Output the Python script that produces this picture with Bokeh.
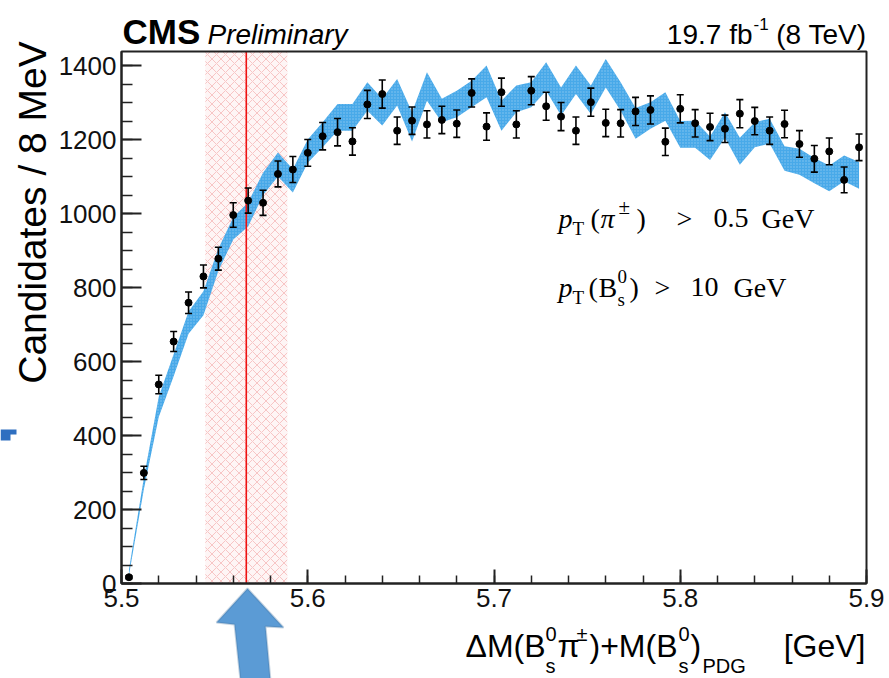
import math
from bokeh.plotting import figure
from bokeh.models import (ColumnDataSource, Whisker, TeeHead, BoxAnnotation, Label,
                          PolyAnnotation, SingleIntervalTicker, PrintfTickFormatter,
                          Range1d, LinearAxis)
from bokeh.embed import file_html
from bokeh.resources import INLINE

# ---------------- data ----------------
bin_centers = [5.504, 5.512, 5.520, 5.528, 5.536, 5.544, 5.552, 5.560, 5.568, 5.576,
               5.584, 5.592, 5.600, 5.608, 5.616, 5.624, 5.632, 5.640, 5.648, 5.656,
               5.664, 5.672, 5.680, 5.688, 5.696, 5.704, 5.712, 5.720, 5.728, 5.736,
               5.744, 5.752, 5.760, 5.768, 5.776, 5.784, 5.792, 5.800, 5.808, 5.816,
               5.824, 5.832, 5.840, 5.848, 5.856, 5.864, 5.872, 5.880, 5.888, 5.896]
counts = [17, 299, 538, 654, 759, 830, 878, 996, 1035, 1029,
          1107, 1119, 1164, 1209, 1220, 1195, 1295, 1323, 1224, 1251,
          1241, 1253, 1243, 1326, 1235, 1328, 1241, 1332, 1290, 1262,
          1224, 1301, 1245, 1244, 1276, 1280, 1194, 1283, 1244, 1234,
          1229, 1270, 1250, 1224, 1242, 1188, 1148, 1168, 1091, 1179]
errors = [4, 18, 25, 27, 29, 31, 31, 33, 34, 34,
          35, 35, 36, 37, 37, 37, 38, 38, 37, 37,
          37, 37, 37, 38, 37, 38, 37, 38, 38, 38,
          37, 38, 37, 37, 38, 38, 37, 38, 37, 37,
          37, 38, 37, 37, 37, 36, 36, 36, 35, 36]
band_low = [22, 255, 450, 560, 675, 725, 845, 930, 965, 1050,
            1100, 1057, 1137, 1179, 1224, 1224, 1278, 1238, 1292, 1195,
            1305, 1247, 1260, 1287, 1314, 1224, 1274, 1287, 1332, 1265,
            1323, 1269, 1341, 1278, 1202, 1229, 1251, 1178, 1178, 1145,
            1205, 1132, 1179, 1189, 1116, 1105, 1082, 1060, 1087, 1067]
band_high = [38, 285, 505, 620, 735, 790, 905, 990, 1030, 1110,
             1165, 1120, 1200, 1247, 1296, 1296, 1355, 1310, 1364, 1274,
             1382, 1310, 1332, 1359, 1400, 1305, 1346, 1355, 1409, 1341,
             1400, 1346, 1418, 1355, 1285, 1301, 1328, 1250, 1251, 1208,
             1274, 1205, 1247, 1256, 1182, 1175, 1150, 1130, 1157, 1139]
signal_window = [5.545, 5.589]
signal_mass = 5.567
x_lim = [5.5, 5.9]
y_lim = [0, 1438]

# ---------------- layout (page pixels) ----------------
W, H = 889, 678
FL, FR, FT, FB = 121, 866, 51, 583   # plot box left/right/top/bottom on the page
xpp = (x_lim[1] - x_lim[0]) / (FR - FL)
ypp = (y_lim[1] - y_lim[0]) / (FB - FT)
x_range = Range1d(x_lim[0] - FL * xpp, x_lim[1] + (W - FR) * xpp)
y_range = Range1d(y_lim[0] - (H - FB) * ypp, y_lim[1] + FT * ypp)

p = figure(width=W, height=H, output_backend="svg", toolbar_location=None,
           x_range=x_range, y_range=y_range, min_border=0,
           x_axis_location=None, y_axis_location=None, title=None)
p.background_fill_color = "white"
p.border_fill_color = "white"
p.outline_line_color = None
p.grid.visible = False

# axes (ROOT style: ticks inside), pinned to the plot box
xax = LinearAxis(fixed_location=y_lim[0], bounds=(x_lim[0] - 1e-4, x_lim[1] + 1e-4),
                 ticker=SingleIntervalTicker(interval=0.1, num_minor_ticks=5),
                 formatter=PrintfTickFormatter(format="%.1f"))
yax = LinearAxis(fixed_location=x_lim[0], bounds=(y_lim[0] - 0.01, y_lim[1]),
                 ticker=SingleIntervalTicker(interval=200, num_minor_ticks=4))
for ax in (xax, yax):
    ax.axis_line_width = 2
    ax.axis_line_color = "#222222"
    ax.major_tick_out = 0
    ax.minor_tick_out = 0
    ax.major_tick_line_width = 2
    ax.minor_tick_line_width = 1.5
    ax.major_tick_line_color = "#222222"
    ax.minor_tick_line_color = "#222222"
    ax.major_label_text_font = "Liberation Sans"
    ax.major_label_text_color = "#111111"
    ax.major_label_text_font_size = "26px"
    ax.major_label_standoff = 5
xax.major_tick_in = 14
xax.minor_tick_in = 8
yax.major_tick_in = 20
yax.minor_tick_in = 11

# signal window (hatched)
p.add_layout(BoxAnnotation(left=signal_window[0], right=signal_window[1],
                           bottom=y_lim[0], top=y_lim[1],
                           fill_color="#fdecec", fill_alpha=0.5,
                           hatch_pattern="diagonal_cross", hatch_color="#f08a8a",
                           hatch_alpha=0.45, hatch_scale=9, hatch_weight=1,
                           line_color=None, level="underlay"))

# fit band
band_src = ColumnDataSource(dict(x=bin_centers, lo=band_low, hi=band_high))
p.varea(x="x", y1="lo", y2="hi", source=band_src, fill_color="#3ea4e8", fill_alpha=0.95,
        hatch_pattern="dot", hatch_color="white", hatch_alpha=0.35, hatch_scale=3,
        hatch_weight=1)

# expected mass line
p.segment(x0=[signal_mass], y0=[y_lim[0]], x1=[signal_mass], y1=[y_lim[1]],
          line_color="#ee1111", line_width=1.6)

# data points with error bars
up = [c + e for c, e in zip(counts, errors)]
dn = [c - e for c, e in zip(counts, errors)]
pts = ColumnDataSource(dict(x=bin_centers, y=counts, up=up, dn=dn))
p.add_layout(Whisker(source=pts, base="x", upper="up", lower="dn",
                     line_color="black", line_width=1.6, level="annotation",
                     upper_head=TeeHead(size=7, line_color="black", line_width=1.6),
                     lower_head=TeeHead(size=7, line_color="black", line_width=1.6)))
p.scatter("x", "y", source=pts, size=7, color="black")

# plot box outline
p.quad(left=[x_lim[0]], right=[x_lim[1]], bottom=[y_lim[0]], top=[y_lim[1]],
       fill_color=None, line_color="#222222", line_width=2)

p.add_layout(xax, "below")
p.add_layout(yax, "left")

BASE_K = 0.33   # label box correction so that Y is the text baseline


def txt(text, X, Y, size, font="Liberation Sans", style="normal", align="left",
        baseline="alphabetic", angle=0.0, color="black"):
    yy = Y - BASE_K * size if baseline == "alphabetic" else Y
    p.add_layout(Label(x=X, y=H - yy, x_units="screen", y_units="screen",
                       text=text, text_font=font, text_font_size=f"{size}px",
                       text_font_style=style, text_align=align,
                       text_baseline=baseline, angle=angle, text_color=color,
                       level="overlay"))


# header
txt("CMS", 122, 43, 35, style="bold")
txt("Preliminary", 207, 43, 28, style="italic")
txt("19.7 fb", 752, 43, 28, align="right")
txt("-1", 753, 29, 17)
txt("(8 TeV)", 866, 43, 28, align="right")

# y axis title
txt("Candidates / 8 MeV", 32, 212, 39, align="center", baseline="middle",
    angle=math.pi / 2)

# x axis title
xs = 32
sub = 20
txt("\u0394M(B", 465, 656, xs)
txt("0", 545, 640, sub)
txt("s", 545, 672, sub)
txt("\u03c0", 557, 656, xs)
txt("\u00b1", 576, 640, sub)
txt(")+M(B", 589, 656, xs)
txt("0", 678, 640, sub)
txt("s", 678, 672, sub)
txt(")", 690, 656, xs)
txt("PDG", 702, 672, sub)
txt("[GeV]", 865, 656, xs, align="right")

# cut annotations (serif, TLatex-like)
SF = "Liberation Serif"
txt("p", 558, 227, 28, font=SF, style="italic")
txt("T", 572, 234, 19, font=SF)
txt("(", 590, 227, 28, font=SF)
txt("\u03c0", 600, 227, 28, font=SF, style="italic")
txt("\u00b1", 618, 213, 21, font=SF)
txt(")", 636, 227, 28, font=SF)
txt(">", 676, 227, 28, font=SF)
txt("0.5", 713, 227, 28, font=SF)
txt("GeV", 761, 227, 28, font=SF)

txt("p", 558, 296, 28, font=SF, style="italic")
txt("T", 572, 303, 19, font=SF)
txt("(", 588, 296, 28, font=SF)
txt("B", 598, 296, 28, font=SF)
txt("0", 617, 282, 19, font=SF)
txt("s", 617, 305, 19, font=SF)
txt(")", 629, 296, 28, font=SF)
txt(">", 654, 296, 28, font=SF)
txt("10", 690, 296, 28, font=SF)
txt("GeV", 733, 296, 28, font=SF)

# slide decorations: big blue arrow and a small blue mark
arrow_page = [(247, 588), (283, 627), (265, 626), (270, 680), (240, 680), (234, 624), (216, 622)]
p.add_layout(PolyAnnotation(xs=[x for x, _ in arrow_page],
                            ys=[H - y for _, y in arrow_page],
                            xs_units="screen", ys_units="screen",
                            fill_color="#5B9BD5", fill_alpha=1.0,
                            line_color="#41719C", line_width=2, level="overlay"))
mark_page = [(0, 429), (16, 429), (16, 434), (10, 434), (10, 440), (0, 440)]
p.add_layout(PolyAnnotation(xs=[x for x, _ in mark_page],
                            ys=[H - y for _, y in mark_page],
                            xs_units="screen", ys_units="screen",
                            fill_color="#2f6fc0", fill_alpha=1.0,
                            line_color=None, level="overlay"))

open("out.html", "w").write(file_html(p, INLINE))
